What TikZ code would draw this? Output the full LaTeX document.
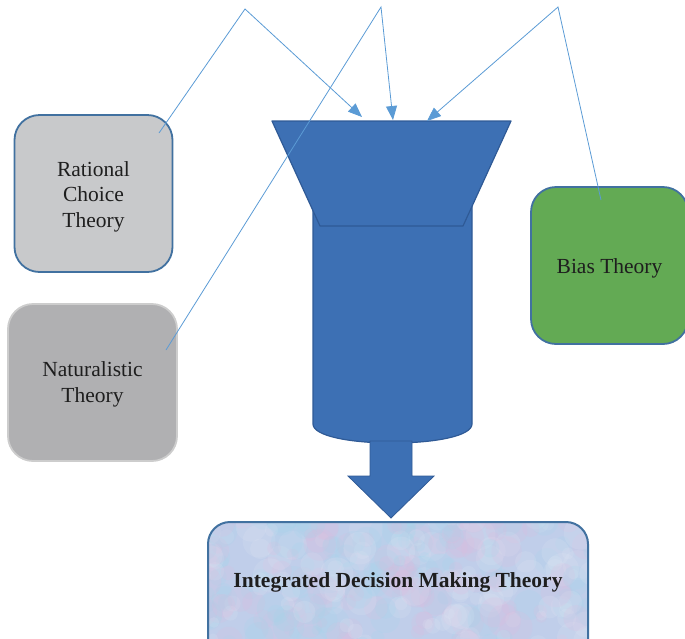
\documentclass[tikz,border=0pt]{standalone}
\usepackage{fontspec}
\setmainfont{Liberation Serif}
\usetikzlibrary{arrows.meta}
\definecolor{linkblue}{RGB}{91,155,213}
\definecolor{funfill}{RGB}{61,112,180}
\definecolor{fundraw}{RGB}{47,90,150}
\definecolor{boxblue}{RGB}{65,113,160}
\definecolor{lgray}{RGB}{200,201,203}
\definecolor{mgray}{RGB}{176,176,178}
\definecolor{mgrayedge}{RGB}{205,205,205}
\definecolor{biasgreen}{RGB}{99,170,84}
\definecolor{intfill}{RGB}{192,206,234}
\definecolor{texpink}{RGB}{225,185,220}
\definecolor{texcyan}{RGB}{160,215,235}
\definecolor{texlight}{RGB}{225,232,245}
\definecolor{txt}{RGB}{30,30,30}
\begin{document}
\begin{tikzpicture}[x=1pt,y=-1pt,
  theorybox/.style={rounded corners=25pt, line width=1.8pt, inner sep=0pt},
  theorytext/.style={align=center, text=txt, font=\fontsize{21.5}{25.5}\selectfont, inner sep=0pt},
  link/.style={draw=linkblue, line width=0.8pt},
  linkarrow/.style={link, -{Triangle[length=14pt,width=11pt]}},
  funnelpart/.style={fill=funfill, draw=fundraw, line width=1.2pt, line join=round}
]
\useasboundingbox (0,0) rectangle (685,638);
\clip (0,0) rectangle (685,638);

% boxes
\node[theorybox, fill=lgray, draw=boxblue, minimum width=158pt, minimum height=157pt]
  (rc) at (93.5,193.5) {};
\node[theorytext] (rctext) at ([yshift=-3pt]rc.center) {Rational\\Choice\\Theory};
\node[theorybox, fill=mgray, draw=mgrayedge, minimum width=169pt, minimum height=157pt]
  (nt) at (92.5,382.5) {};
\node[theorytext] (nttext) at ([yshift=-2pt]nt.center) {Naturalistic\\Theory};
\node[theorybox, fill=biasgreen, draw=boxblue, minimum width=157pt, minimum height=157pt]
  (bt) at (609.5,265.5) {};
\node[theorytext] (bttext) at ([yshift=-3pt]bt.center) {Bias Theory};

% funnel: cylinder body
\path[funnelpart] (313,205) -- (313,424)
  .. controls (313,436) and (350,443) .. (392.5,443)
  .. controls (435,443) and (472,436) .. (472,424) -- (472,205) -- cycle;
% funnel: trapezoid top
\path[funnelpart] (272,121) -- (511,121) -- (463,226) -- (320,226) -- cycle;
% down arrow
\path[fill=funfill, draw=fundraw, line width=0.8pt] (370,441) -- (412,441) -- (412,476) -- (434,476)
  -- (391,518) -- (348,476) -- (370,476) -- cycle;

% integrated box with soft texture
\begin{scope}
  \path[clip, rounded corners=22pt] (208,522) rectangle (588,668);
  \fill[intfill] (200,515) rectangle (600,670);
  \pgfmathsetseed{11}
  \foreach \i in {1,...,320}{
    \pgfmathsetmacro{\px}{200+396*rnd}
    \pgfmathsetmacro{\py}{515+130*rnd}
    \pgfmathsetmacro{\pr}{5+12*rnd}
    \pgfmathtruncatemacro{\pc}{mod(\i,3)}
    \ifnum\pc=0 \fill[texpink, opacity=0.18] (\px,\py) circle (\pr);\fi
    \ifnum\pc=1 \fill[texcyan, opacity=0.18] (\px,\py) circle (\pr);\fi
    \ifnum\pc=2 \fill[texlight, opacity=0.18] (\px,\py) circle (\pr);\fi
  }
\end{scope}
\node[draw=boxblue, line width=2pt, rounded corners=22pt, minimum width=380pt, minimum height=146pt,
  inner sep=0pt] (idm) at (398,595) {};
\node[text=txt, font=\bfseries\fontsize{21.5}{25.5}\selectfont, inner sep=0pt] (idmtext) at (398,582)
  {Integrated Decision Making Theory};

% connectors
\coordinate (rcs) at (159,133);
\coordinate (rcp) at (245,9);
\coordinate (rct) at (362,117);
\coordinate (nts) at (166,350);
\coordinate (ntp) at (381,7);
\coordinate (ntt) at (393,120);
\coordinate (bts) at (601,200);
\coordinate (btp) at (558,7);
\coordinate (btt) at (427,121);
\draw[linkarrow] (rcs) -- (rcp) -- (rct);
\draw[linkarrow] (nts) -- (ntp) -- (ntt);
\draw[linkarrow] (bts) -- (btp) -- (btt);
\end{tikzpicture}
\end{document}
